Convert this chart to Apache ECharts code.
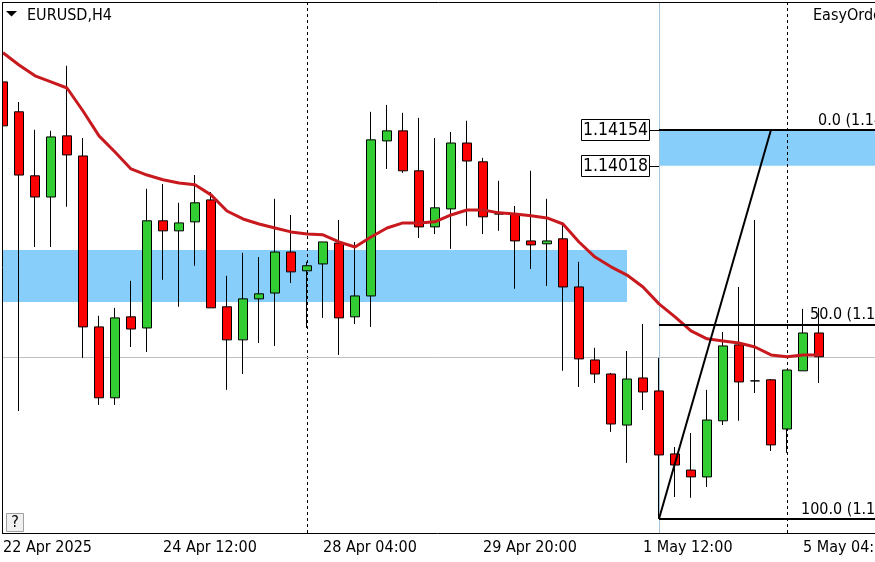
<!DOCTYPE html>
<html><head><meta charset="utf-8">
<script src="https://cdn.jsdelivr.net/npm/echarts@6/dist/echarts.min.js"></script>
<style>html,body{margin:0;padding:0;background:#fff;overflow:hidden}#c{width:875px;height:562px}</style>
</head><body><div id="c"></div>
<script>
const categories = [
"2025.04.22 20:00",
"2025.04.23 00:00","2025.04.23 04:00","2025.04.23 08:00","2025.04.23 12:00","2025.04.23 16:00","2025.04.23 20:00",
"2025.04.24 00:00","2025.04.24 04:00","2025.04.24 08:00","2025.04.24 12:00","2025.04.24 16:00","2025.04.24 20:00",
"2025.04.25 00:00","2025.04.25 04:00","2025.04.25 08:00","2025.04.25 12:00","2025.04.25 16:00","2025.04.25 20:00",
"2025.04.28 00:00","2025.04.28 04:00","2025.04.28 08:00","2025.04.28 12:00","2025.04.28 16:00","2025.04.28 20:00",
"2025.04.29 00:00","2025.04.29 04:00","2025.04.29 08:00","2025.04.29 12:00","2025.04.29 16:00","2025.04.29 20:00",
"2025.04.30 00:00","2025.04.30 04:00","2025.04.30 08:00","2025.04.30 12:00","2025.04.30 16:00","2025.04.30 20:00",
"2025.05.01 00:00","2025.05.01 04:00","2025.05.01 08:00","2025.05.01 12:00","2025.05.01 16:00","2025.05.01 20:00",
"2025.05.02 00:00","2025.05.02 04:00","2025.05.02 08:00","2025.05.02 12:00","2025.05.02 16:00","2025.05.02 20:00",
"2025.05.05 00:00","2025.05.05 04:00","2025.05.05 08:00","2025.05.05 12:00","2025.05.05 16:00","2025.05.05 20:00",
"2025.05.06 00:00","2025.05.06 04:00","2025.05.06 08:00"
];
// [open, close, low, high]
const candles = [
[1.14335,1.14169,1.14154,1.14535],
[1.14222,1.13983,1.13091,1.14259],
[1.13980,1.13900,1.13711,1.14154],
[1.13900,1.14127,1.13711,1.14150],
[1.14131,1.14059,1.13863,1.14396],
[1.14055,1.13409,1.13292,1.14123],
[1.13409,1.13141,1.13114,1.13451],
[1.13141,1.13443,1.13114,1.13481],
[1.13447,1.13401,1.13333,1.13583],
[1.13405,1.13810,1.13314,1.13931],
[1.13810,1.13772,1.13587,1.13949],
[1.13772,1.13802,1.13485,1.13878],
[1.13806,1.13878,1.13640,1.13983],
[1.13889,1.13481,1.13481,1.13919],
[1.13485,1.13360,1.13171,1.13602],
[1.13360,1.13515,1.13231,1.13689],
[1.13515,1.13534,1.13348,1.13673],
[1.13537,1.13692,1.13337,1.13893],
[1.13692,1.13617,1.13575,1.13832],
[1.13621,1.13640,1.13405,1.13655],
[1.13647,1.13730,1.13443,1.13730],
[1.13726,1.13443,1.13303,1.13813],
[1.13447,1.13526,1.13420,1.13730],
[1.13526,1.14116,1.13409,1.14222],
[1.14112,1.14150,1.14006,1.14248],
[1.14150,1.13999,1.13991,1.14218],
[1.13999,1.13787,1.13745,1.14199],
[1.13787,1.13859,1.13760,1.14123],
[1.13855,1.14104,1.13704,1.14146],
[1.14104,1.14036,1.13791,1.14188],
[1.14033,1.13825,1.13760,1.14048],
[1.13836,1.13836,1.13772,1.13961],
[1.13836,1.13734,1.13553,1.13866],
[1.13734,1.13719,1.13628,1.13999],
[1.13723,1.13734,1.13564,1.13893],
[1.13742,1.13560,1.13243,1.13798],
[1.13560,1.13288,1.13182,1.13655],
[1.13284,1.13231,1.13197,1.13330],
[1.13231,1.13042,1.13012,1.13235],
[1.13038,1.13212,1.12895,1.13318],
[1.13216,1.13163,1.13095,1.13420],
[1.13167,1.12925,1.12684,1.13292],
[1.12929,1.12887,1.12766,1.12955],
[1.12868,1.12842,1.12763,1.13008],
[1.12842,1.13057,1.12804,1.13171],
[1.13054,1.13337,1.13038,1.13390],
[1.13341,1.13201,1.13054,1.13560],
[1.13205,1.13205,1.13159,1.13813],
[1.13209,1.12963,1.12940,1.13212],
[1.13023,1.13246,1.12933,1.13246],
[1.13243,1.13386,1.13243,1.13477],
[1.13386,1.13296,1.13197,1.13481]
];
const maValues = [
1.14445,1.14399,1.14358,1.14335,1.14312,1.14225,1.14131,1.14070,1.14006,1.13983,
1.13965,1.13953,1.13946,1.13908,1.13847,1.13817,1.13798,1.13783,1.13768,1.13760,
1.13757,1.13730,1.13711,1.13749,1.13783,1.13802,1.13802,1.13806,1.13832,1.13851,
1.13851,1.13840,1.13836,1.13829,1.13821,1.13798,1.13730,1.13673,1.13636,1.13605,
1.13560,1.13496,1.13447,1.13394,1.13364,1.13356,1.13348,1.13333,1.13303,1.13296,
1.13303,1.13303
];
const tickCats = ["2025.04.22 20:00","2025.04.24 12:00","2025.04.28 04:00","2025.04.29 20:00","2025.05.01 12:00","2025.05.05 04:00"];
const tickLabels = ["22 Apr 2025","24 Apr 12:00","28 Apr 04:00","29 Apr 20:00","1 May 12:00","5 May 04:00"];
const weekSeparators = ["2025.04.28 00:00","2025.05.05 00:00"];
const zoneLeft = ["2025.04.22 20:00","2025.05.01 08:00",1.13700,1.13503];
const zoneRight = ["2025.05.01 16:00","2025.05.06 08:00",1.14154,1.14018];
const fibStart = "2025.05.01 16:00";
const fibEnd = "2025.05.02 20:00";
const fibHigh = 1.14154;
const fibLow = 1.12684;
const fibLevels = [0.0, 50.0, 100.0];
const bidPrice = 1.13296;
const yMin = 1.12630, yMax = 1.14637;

const FONT = "'DejaVu Sans Condensed','DejaVu Sans',sans-serif";
const chart = echarts.init(document.getElementById('c'));
const firstCat = categories[0];
const lastCat = categories[categories.length - 1];
const fibPrice = lv => +(fibHigh - (fibHigh - fibLow) * lv / 100).toFixed(5);
const isTick = (i) => tickCats.indexOf(categories[i]) >= 0;

const markLineData = [];
weekSeparators.forEach(c => markLineData.push({xAxis: c, lineStyle: {color: '#000', width: 1, type: [3, 3]}}));
markLineData.push({xAxis: fibStart, lineStyle: {color: '#a4c4dc', width: 1, type: 'solid'}});
markLineData.push([{coord: [firstCat, bidPrice], x: 0}, {coord: [lastCat, bidPrice], x: 875, lineStyle: {color: '#c0c0c0', width: 1, type: 'solid'}}]);

const fibLineData = fibLevels.map(lv => [{coord: [fibStart, fibPrice(lv)]}, {coord: [lastCat, fibPrice(lv)]}]);
fibLineData.push([{coord: [fibStart, fibLow]}, {coord: [fibEnd, fibHigh]}]);

chart.setOption({
  animation: false,
  backgroundColor: '#fff',
  grid: {left: -5, top: 2, width: 928, height: 531, containLabel: false, outerBoundsMode: 'none'},
  xAxis: {
    type: 'category', data: categories, boundaryGap: true,
    axisLine: {lineStyle: {color: '#000', width: 1}},
    axisTick: {alignWithLabel: true, length: 3, interval: (i) => isTick(i), lineStyle: {color: '#000'}},
    axisLabel: {interval: (i) => isTick(i), formatter: (v) => tickLabels[tickCats.indexOf(v)] || '',
      align: 'left', color: '#000', fontSize: 16, fontFamily: FONT, margin: 7, hideOverlap: false},
    splitLine: {show: false}
  },
  yAxis: {type: 'value', min: yMin, max: yMax, show: false, splitLine: {show: false}},
  series: [
    {
      name: 'zones', type: 'line', data: [], z: 1, silent: true,
      markArea: {silent: true, z: 1, itemStyle: {color: '#87cefa', opacity: 1},
        data: [
          [{xAxis: zoneLeft[0], yAxis: zoneLeft[2]}, {xAxis: zoneLeft[1], yAxis: zoneLeft[3]}],
          [{xAxis: zoneRight[0], yAxis: zoneRight[2]}, {xAxis: zoneRight[1], yAxis: zoneRight[3]}]
        ]},
      markLine: {silent: true, z: 1, symbol: ['none', 'none'], label: {show: false}, data: markLineData}
    },
    {
      name: 'EURUSD,H4', type: 'candlestick', data: candles, barWidth: 9, z: 2,
      itemStyle: {color: '#32cd32', color0: '#ff0000', borderColor: '#000', borderColor0: '#000', borderColorDoji: '#000', borderWidth: 1},
      emphasis: {disabled: true}
    },
    {
      name: 'MA', type: 'line', data: maValues, z: 3, showSymbol: false, symbol: 'none', smooth: false,
      lineStyle: {color: '#c81a1e', width: 3}, emphasis: {disabled: true}
    },
    {
      name: 'fib', type: 'line', data: [], z: 4, silent: true,
      markLine: {silent: true, z: 4, symbol: ['none', 'none'], label: {show: false},
        lineStyle: {color: '#000', width: 2, type: 'solid'}, data: fibLineData}
    }
  ]
});

const px = (c, v) => chart.convertToPixel({gridIndex: 0}, [c, v]);
const xStart = px(fibStart, fibHigh)[0];
const graphics = [
  {type: 'rect', shape: {x: 0, y: 0, width: 2, height: 562}, style: {fill: '#fff'}, z: 100},
  {type: 'line', shape: {x1: 2.5, y1: 2, x2: 2.5, y2: 533}, style: {stroke: '#000', lineWidth: 1}, z: 101},
  {type: 'line', shape: {x1: 2, y1: 2.5, x2: 875, y2: 2.5}, style: {stroke: '#000', lineWidth: 1}, z: 101},
  {type: 'polygon', shape: {points: [[6, 11], [17, 11], [11.5, 16.5]]}, style: {fill: '#000'}, z: 101},
  {type: 'text', x: 27, y: 16, style: {text: 'EURUSD,H4', font: '16px ' + FONT, fill: '#000', textVerticalAlign: 'middle'}, z: 101},
  {type: 'text', x: 813, y: 16, style: {text: 'EasyOrder', font: '16px ' + FONT, fill: '#000', textVerticalAlign: 'middle'}, z: 101},
  {type: 'rect', shape: {x: 6.5, y: 513.5, width: 17, height: 18}, style: {fill: '#f0f0f0', stroke: '#a0a0a0', lineWidth: 1}, z: 101},
  {type: 'text', x: 15, y: 523, style: {text: '?', font: '16px ' + FONT, fill: '#000', textAlign: 'center', textVerticalAlign: 'middle'}, z: 102}
];
[zoneRight[2], zoneRight[3]].forEach(p => {
  const y = Math.round(px(fibStart, p)[1]) + 0.5;
  graphics.push({type: 'line', shape: {x1: xStart - 10, y1: y, x2: xStart, y2: y}, style: {stroke: '#000', lineWidth: 1}, z: 101});
  graphics.push({type: 'rect', shape: {x: xStart - 77.5, y: y - 11, width: 68, height: 21}, style: {fill: '#fff', stroke: '#000', lineWidth: 1}, z: 101});
  graphics.push({type: 'text', x: xStart - 43.5, y: y, style: {text: p.toFixed(5), font: '17.5px ' + FONT, fill: '#000', textAlign: 'center', textVerticalAlign: 'middle'}, z: 102});
});
const fibLabelX = [818, 810, 801];
fibLevels.forEach((lv, i) => {
  const y = px(fibStart, fibPrice(lv))[1];
  graphics.push({type: 'text', x: fibLabelX[i], y: y - 9, style: {text: lv.toFixed(1) + ' (' + fibPrice(lv).toFixed(5) + ')', font: '16px ' + FONT, fill: '#000', textVerticalAlign: 'middle'}, z: 102});
});
chart.setOption({graphic: graphics});
</script></body></html>
